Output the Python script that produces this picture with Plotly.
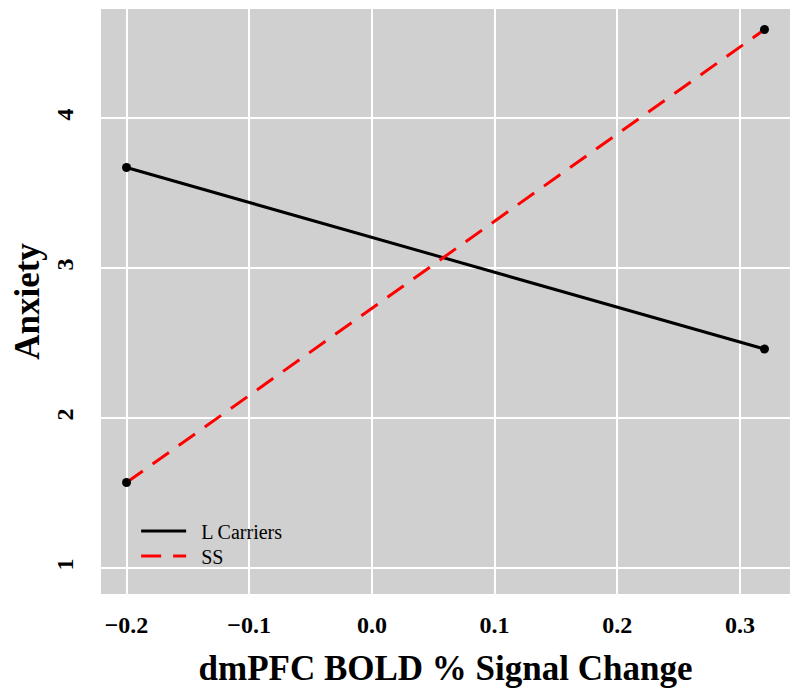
import plotly.graph_objects as go

x_vals = [-0.2, 0.32]
l_carriers = [3.67, 2.46]
ss_vals = [1.57, 4.59]
series_names = ["L Carriers", "SS"]
x_ticks = [-0.2, -0.1, 0.0, 0.1, 0.2, 0.3]
x_ticktext = ["\u22120.2", "\u22120.1", "0.0", "0.1", "0.2", "0.3"]
y_ticks = [1, 2, 3, 4]

FONT = "Liberation Serif, Times New Roman, serif"
PAD = "\u00a0\u00a0"

fig = go.Figure()
fig.add_trace(go.Scatter(x=x_vals, y=l_carriers, mode="lines", name=PAD + series_names[0],
                         line=dict(color="black", width=3), legend="legend"))
fig.add_trace(go.Scatter(x=x_vals, y=ss_vals, mode="lines", name=PAD + series_names[1],
                         line=dict(color="#ff0000", width=3, dash="20px,12px"),
                         legend="legend2"))
fig.add_trace(go.Scatter(x=x_vals + x_vals, y=l_carriers + ss_vals, mode="markers",
                         showlegend=False, marker=dict(color="black", size=9)))

leg_common = dict(xanchor="left", yanchor="middle", bgcolor="rgba(0,0,0,0)",
                  font=dict(family=FONT, size=20, color="black"), itemwidth=45)

fig.update_layout(
    width=792, height=684,
    margin=dict(l=93, r=10, t=1, b=98, autoexpand=False),
    paper_bgcolor="white",
    plot_bgcolor="#d0d0d0",
    font=dict(family=FONT, color="black"),
    legend=dict(x=0.051, y=0.1077, **leg_common),
    legend2=dict(x=0.051, y=0.065, **leg_common),
    xaxis=dict(range=[-0.2208, 0.3408], tickvals=x_ticks, ticktext=x_ticktext,
               showgrid=True, gridcolor="white", gridwidth=1.5, zeroline=False,
               showline=False, ticks="outside", ticklen=9, tickcolor="rgba(0,0,0,0)",
               tickfont=dict(family=FONT, size=24, color="black", weight="bold"),
               title=dict(text="<b>dmPFC BOLD % Signal Change</b>", standoff=18,
                          font=dict(family=FONT, size=35, color="black")),
               automargin=False),
    yaxis=dict(range=[0.827, 4.727], tickvals=y_ticks, tickangle=-90,
               showgrid=True, gridcolor="white", gridwidth=1.5, zeroline=False,
               showline=False, ticks="outside", ticklen=17, tickcolor="rgba(0,0,0,0)",
               tickfont=dict(family=FONT, size=24, color="black", weight="bold"),
               title=dict(text="<b>Anxiety</b>", standoff=22,
                          font=dict(family=FONT, size=35, color="black")),
               automargin=False),
)

fig.write_html("out.html")
